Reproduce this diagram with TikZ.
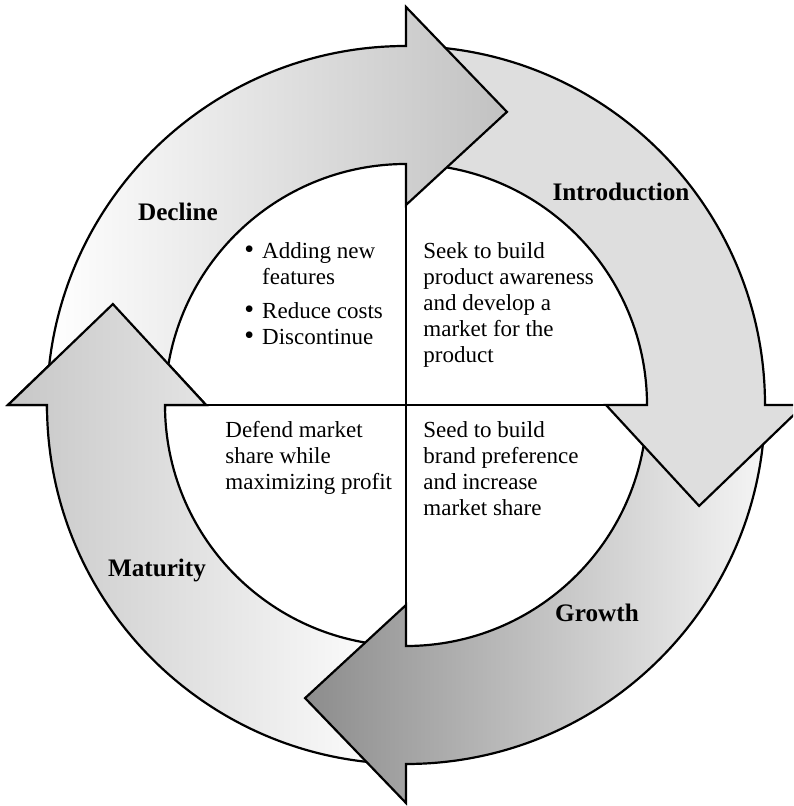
\documentclass[tikz,border=0pt]{standalone}
\usepackage{fontspec}
\setmainfont{Liberation Serif}
\usetikzlibrary{calc}
\tikzset{
	every node/.style={
		align=left,
		inner sep=0pt,
	},
	ring line/.style={draw=black, line width=1.1pt, line join=miter},
	stage label/.style={font=\fontsize{12.6}{15}\selectfont\bfseries, align=center},
	stage text/.style={font=\fontsize{11.5}{13}\selectfont, anchor=north west},
	decline arrow/.style={ring line, left color=white, right color=black!24},
	introduction arrow/.style={ring line, fill=black!13},
	growth arrow/.style={ring line, left color=black!45, right color=black!4},
	maturity arrow/.style={ring line, left color=black!22, right color=white},
}
\newcommand{\bigbullet}{{\fontsize{14}{13}\selectfont\textbullet}}
% quarter ring ending in a head; #1 = angle of the head's base
\newcommand{\stagearrow}[2]{%
	\path[#2] (#1+88:359) arc[start angle=#1+88, end angle=#1, radius=359]
		-- (#1:398) -- (#1-19:310) -- (#1:200) -- (#1:241)
		arc[start angle=#1, end angle=#1+88, radius=241] -- cycle;}

\begin{document}
\begin{tikzpicture}[x=0.5pt, y=0.5pt]
		\useasboundingbox (-406,-401) rectangle (387,405);
		\clip (-406,-401) rectangle (387,405);
		
		\stagearrow{180}{maturity arrow}
		\stagearrow{-90}{growth arrow}
		\stagearrow{0}{introduction arrow}
		\stagearrow{90}{decline arrow}
		
		% maturity head again, over the tail of decline
		\begin{scope}
			\clip (-405,-6) rectangle (-190,120);
			\stagearrow{180}{maturity arrow}
		\end{scope}
		
		\coordinate (qn) at (90:200);
		\coordinate (qs) at (-90:200);
		\coordinate (qw) at (180:200);
		\coordinate (qe) at (0:200);
		
		\draw[line width=1.1pt] (qn) -- (qs);
		\draw[line width=1.1pt] (qw) -- (qe);
		
		\node[stage label] (decline) at (-228,193) {Decline};
		\node[stage label] (introduction) at (215,213) {Introduction};
		\node[stage label] (growth) at (191,-208) {Growth};
		\node[stage label] (maturity) at (-249,-165) {Maturity};
		
		\node[stage text] (decline-text) at (-162,165) {\begin{tabular}{@{}l@{\hspace{4pt}}l@{}}
			\bigbullet & Adding new\\
			& features\\[4pt]
			\bigbullet & Reduce costs\\
			\bigbullet & Discontinue
		\end{tabular}};
		\node[stage text] (intro-text) at (17,163) {Seek to build\\product awareness\\and develop a\\market for the\\product};
		\node[stage text] (growth-text) at (17,-16) {Seed to build\\brand preference\\and increase\\market share};
		\node[stage text] (maturity-text) at (-181,-16) {Defend market\\share while\\maximizing profit};
		
	\end{tikzpicture}
\end{document}
